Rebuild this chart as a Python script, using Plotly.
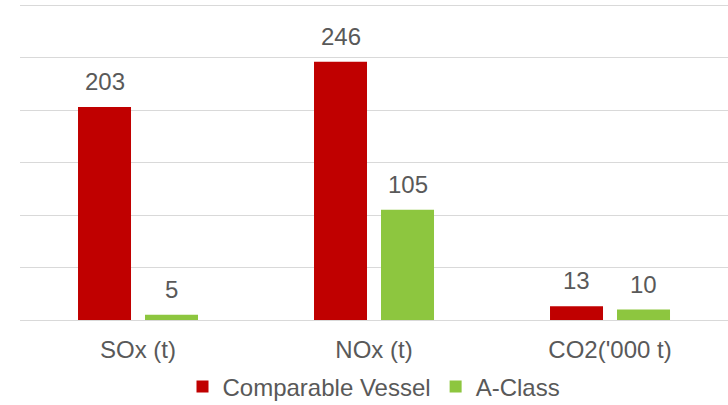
import plotly.graph_objects as go

categories = ["SOx (t)", "NOx (t)", "CO2('000 t)"]
comparable_vessel = [203, 246, 13]
a_class = [5, 105, 10]
series_names = ["Comparable Vessel", "A-Class"]
series_colors = ["#C00000", "#8DC63F"]

FONT = "Liberation Sans, Arial, sans-serif"
TXT = "#595959"
BAR_W = 0.2246
OFFSETS = [-0.2542, 0.0297]

fig = go.Figure()
for name, vals, col, off in zip(series_names, [comparable_vessel, a_class], series_colors, OFFSETS):
    fig.add_trace(go.Bar(
        x=categories, y=vals, name=name, marker=dict(color=col, line=dict(width=0)),
        width=BAR_W, offset=off,
    ))
    for i, v in enumerate(vals):
        fig.add_annotation(
            x=i + off + BAR_W / 2, y=v, xref="x", yref="y",
            text=str(v), showarrow=False, yanchor="bottom", yshift=10,
            font=dict(family=FONT, size=24, color=TXT),
        )

fig.update_layout(
    width=728, height=405,
    margin=dict(l=20, r=0, t=4, b=85, autoexpand=False),
    paper_bgcolor="white", plot_bgcolor="white",
    barmode="overlay",
    font=dict(family=FONT, size=24, color=TXT),
    showlegend=True,
    legend=dict(orientation="h", x=0.5, xanchor="center", yref="container", y=0.10, yanchor="top",
                font=dict(family=FONT, size=24, color=TXT), itemwidth=30,
                tracegroupgap=0),
    xaxis=dict(type="category", showgrid=False, showline=False, ticks="outside",
               ticklen=8, tickcolor="rgba(0,0,0,0)", tickfont=dict(size=24, color=TXT)),
    yaxis=dict(range=[0, 301], tickvals=[0, 50, 100, 150, 200, 250, 300], showgrid=True,
               gridcolor="#D9D9D9", gridwidth=1.3,
               zeroline=True, zerolinecolor="#D9D9D9", zerolinewidth=1.3,
               showticklabels=False, fixedrange=True),
)

fig.write_html("out.html")
